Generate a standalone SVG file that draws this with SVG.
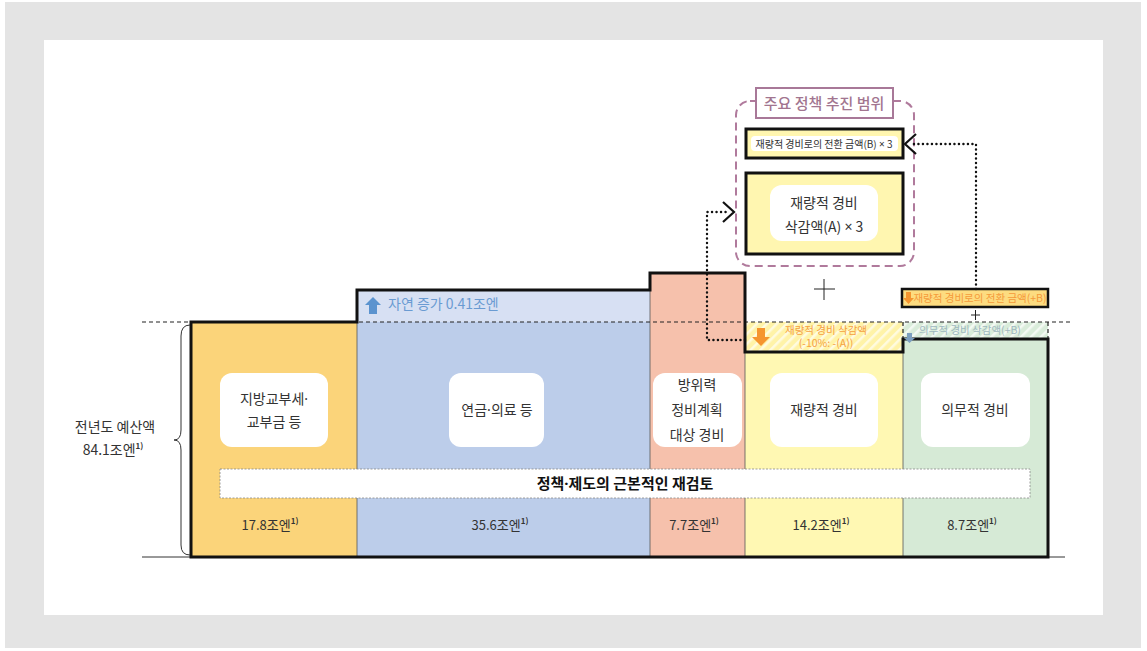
<svg xmlns="http://www.w3.org/2000/svg" width="1147" height="651" viewBox="0 0 1147 651">
<defs>
<style>
text{font-family:"Noto Sans CJK KR","Noto Sans",sans-serif;fill:#333;}
.lbl{font-size:14px;text-anchor:middle;}
.val{font-size:13px;text-anchor:middle;}
.sup{font-size:8px;font-weight:bold;}
.lat{font-family:"Noto Sans","DejaVu Sans",sans-serif;}
.wbox{fill:#fff;}
.sep{stroke:#555;stroke-width:0.8;}
.dot{fill:none;stroke:#111;stroke-width:2.4;stroke-dasharray:0.1 4.4;stroke-linecap:round;}
.chev{fill:none;stroke:#111;stroke-width:2.2;}
.dash{fill:none;stroke:#222;stroke-width:1.2;stroke-dasharray:4 3;}
</style>
<pattern id="hy" width="7" height="7" patternUnits="userSpaceOnUse" patternTransform="rotate(45)">
<rect width="7" height="7" fill="#fff3a8"/>
<rect width="2.5" height="7" fill="#fffbe0"/>
</pattern>
<pattern id="hg" width="7" height="7" patternUnits="userSpaceOnUse" patternTransform="rotate(45)">
<rect width="7" height="7" fill="#d9ecda"/>
<rect width="2.5" height="7" fill="#f3f9f3"/>
</pattern>
</defs>
<rect x="0" y="0" width="1147" height="651" fill="#fff"/>
<rect x="5" y="2" width="1136" height="646" fill="#e4e4e4"/>
<rect x="44" y="40" width="1059" height="575" fill="#fff"/>

<g id="bars">
<rect x="191" y="322" width="166" height="235" fill="#fbd47a"/>
<rect x="357" y="290" width="293" height="32" fill="#d7e0f3"/>
<rect x="357" y="322" width="293" height="235" fill="#bccdea"/>
<rect x="650" y="273" width="95" height="284" fill="#f6c1ac"/>
<rect x="745" y="322" width="158" height="30" fill="url(#hy)"/>
<rect x="745" y="352" width="158" height="205" fill="#fff8b3"/>
<rect x="903" y="322" width="145" height="17" fill="url(#hg)"/>
<rect x="903" y="339" width="145" height="218" fill="#d6ead6"/>
<line class="sep" x1="357" y1="322" x2="357" y2="557"/>
<line class="sep" x1="650" y1="290" x2="650" y2="557"/>
<line class="sep" x1="745" y1="352" x2="745" y2="557"/>
<line class="sep" x1="903" y1="352" x2="903" y2="557"/>
</g>

<g id="guides">
<line class="dash" x1="142" y1="322" x2="1070" y2="322"/>
<line class="dash" x1="903" y1="322" x2="903" y2="339"/>
<line class="dash" x1="1048" y1="322" x2="1048" y2="339"/>
<line x1="142" y1="557" x2="1065" y2="557" stroke="#333" stroke-width="1"/>
<path d="M191,557 V322 H357 V290 H650 V273 H745 V352 H903 V339 H1048 V557 Z" fill="none" stroke="#111" stroke-width="3" stroke-linejoin="miter"/>
</g>

<g id="brace">
<path d="M190,325 Q181,325 181,336 V430 Q181,440 174,440 Q181,440 181,450 V545 Q181,555 190,555" fill="none" stroke="#333" stroke-width="1"/>
<text x="115" y="432" class="lbl">전년도 예산액</text>
<text x="113" y="455" class="lbl">84.1조엔<tspan class="sup" dy="-6">1)</tspan></text>
</g>

<g id="node-local">
<rect class="wbox" x="220" y="373" width="108" height="74" rx="12"/>
<text x="274" y="404" class="lbl">지방교부세<tspan class="lat">·</tspan></text>
<text x="274" y="427" class="lbl">교부금 등</text>
<text x="270" y="530" class="val">17.8조엔<tspan class="sup" dy="-6">1)</tspan></text>
</g>

<g id="node-pension">
<rect class="wbox" x="449" y="373" width="95" height="74" rx="12"/>
<text x="497" y="415" class="lbl">연금<tspan class="lat">·</tspan>의료 등</text>
<text x="500" y="530" class="val">35.6조엔<tspan class="sup" dy="-6">1)</tspan></text>
<path d="M373,297 L381,305 H377 V314 H369 V305 H365 Z" fill="#5b93cf"/>
<text x="388" y="309" style="font-size:14px;fill:#6a9bd2">자연 증가 0.41조엔</text>
</g>

<g id="node-defense">
<rect class="wbox" x="653" y="373" width="89" height="74" rx="12"/>
<text x="697" y="390" class="lbl">방위력</text>
<text x="697" y="415" class="lbl">정비계획</text>
<text x="697" y="440" class="lbl">대상 경비</text>
<text x="694" y="530" class="val">7.7조엔<tspan class="sup" dy="-6">1)</tspan></text>
</g>

<g id="node-discretionary">
<rect class="wbox" x="770" y="373" width="108" height="74" rx="12"/>
<text x="824" y="415" class="lbl">재량적 경비</text>
<text x="821" y="530" class="val">14.2조엔<tspan class="sup" dy="-6">1)</tspan></text>
<path d="M757,328 H765 V337 H770 L761,346 L752,337 H757 Z" fill="#f5952f"/>
<text x="826" y="334" style="font-size:10.5px;fill:#f5a142;text-anchor:middle">재량적 경비 삭감액</text>
<text x="826" y="347" style="font-size:10.5px;fill:#f5a142;text-anchor:middle">(-10%: -(A))</text>
</g>

<g id="node-mandatory">
<rect class="wbox" x="921" y="373" width="109" height="74" rx="12"/>
<text x="975" y="415" class="lbl">의무적 경비</text>
<text x="972" y="530" class="val">8.7조엔<tspan class="sup" dy="-6">1)</tspan></text>
<path d="M907,333 H912 V338 H915 L909.5,343 L904,338 H907 Z" fill="#7d9fbf"/>
<text x="970" y="334" style="font-size:10.5px;fill:#9fb8bf;text-anchor:middle">의무적 경비 삭감액(+B)</text>
</g>

<g id="node-review">
<rect x="220" y="469" width="810" height="29" fill="#fff" stroke="#888" stroke-width="0.8" stroke-dasharray="2 1.5"/>
<text x="625" y="489" style="font-size:15px;font-weight:bold;text-anchor:middle;fill:#111">정책<tspan class="lat">·</tspan>제도의 근본적인 재검토</text>
</g>

<g id="node-scope">
<rect x="736" y="101" width="178" height="165" rx="14" fill="none" stroke="#b07a9c" stroke-width="2" stroke-dasharray="8 5"/>
<rect x="756" y="88" width="137" height="30" fill="#fff" stroke="#a87898" stroke-width="2"/>
<text x="824" y="109" style="font-size:15px;font-weight:500;fill:#a27590;text-anchor:middle">주요 정책 추진 범위</text>
</g>

<g id="node-B">
<rect x="746" y="129" width="157" height="29" fill="#fff6b0" stroke="#111" stroke-width="3"/>
<rect x="751" y="136" width="147" height="15" rx="4" fill="#fff"/>
<text x="824" y="147.5" style="font-size:10px;text-anchor:middle;fill:#333">재량적 경비로의 전환 금액(B) <tspan class="lat">×</tspan> 3</text>
</g>

<g id="node-A">
<rect x="746" y="173" width="157" height="81" fill="#fff6b0" stroke="#111" stroke-width="3"/>
<rect x="770" y="185" width="108" height="56" rx="12" fill="#fff"/>
<text x="824" y="208" class="lbl">재량적 경비</text>
<text x="824" y="232" class="lbl">삭감액(A) <tspan class="lat">×</tspan> 3</text>
</g>

<g id="node-plusB">
<rect x="902" y="289" width="146" height="18" fill="#fddc80" stroke="#111" stroke-width="2.5"/>
<path d="M906,292 H911 V298 H914 L908.5,304 L903,298 H906 Z" fill="#f5952f"/>
<text x="980" y="302" style="font-size:10.5px;fill:#f59a3a;text-anchor:middle">재량적 경비로의 전환 금액(+B)</text>
</g>

<g id="plus-signs">
<path d="M814,289 H835 M824,279 V300" stroke="#222" stroke-width="1"/>
<path d="M971,315 H980 M975.5,310 V320" stroke="#222" stroke-width="1"/>
</g>

<g id="connectors">
<path class="dot" d="M745,340 H707 V212 H730"/>
<path class="chev" d="M723,202 L734,212 L723,222"/>
<path class="dot" d="M976,289 V144 H910"/>
<path class="chev" d="M916,134 L905,144 L916,154"/>
</g>
</svg>
